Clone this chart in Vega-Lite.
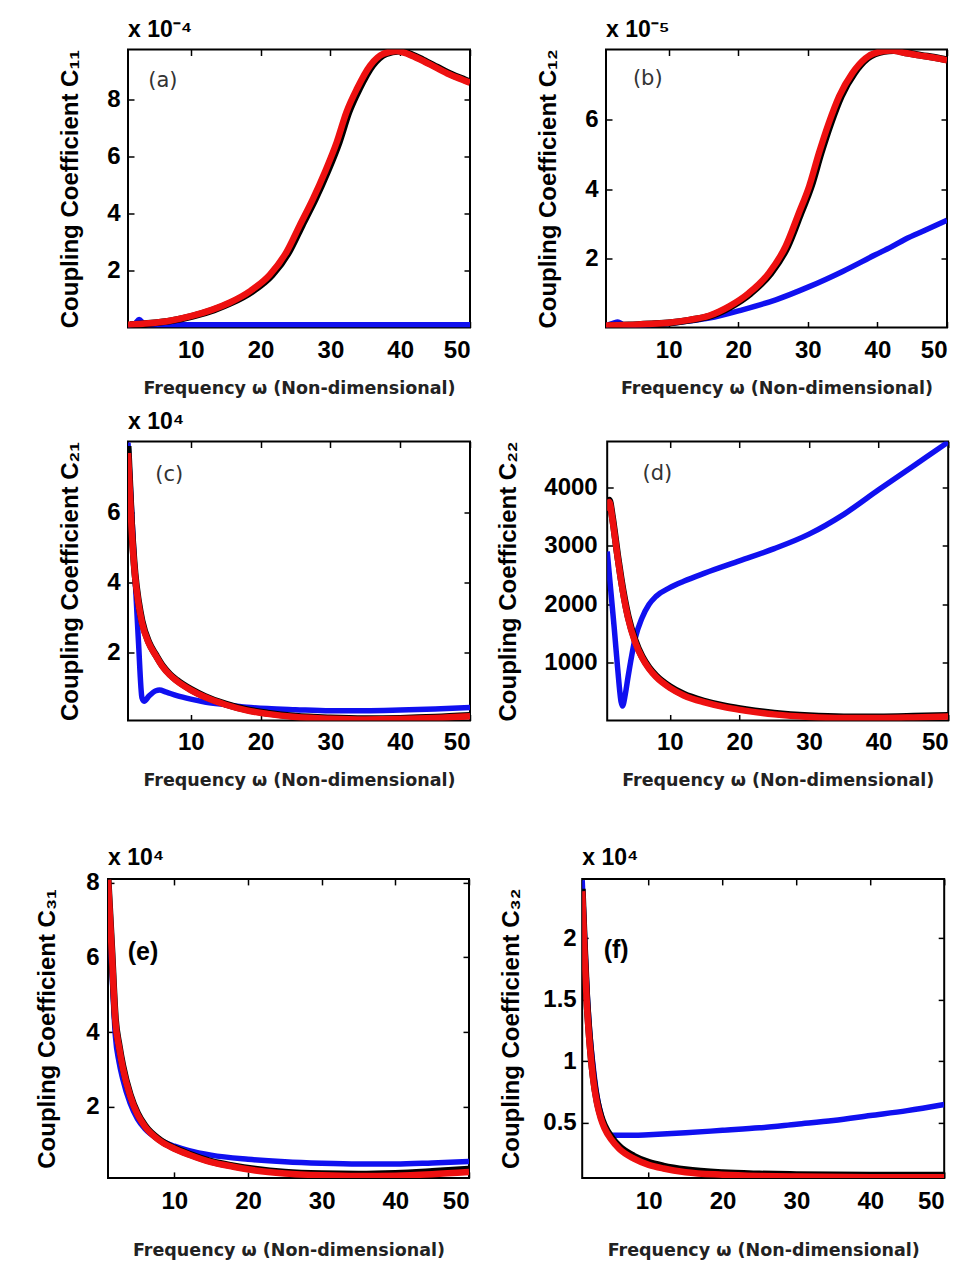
{
  "$schema": "https://vega.github.io/schema/vega-lite/v6.json",
  "background": "white",
  "padding": {"left": 2, "top": 17.5, "right": 0, "bottom": 0},
  "config": {
    "view": {"stroke": "black", "strokeWidth": 2},
    "axis": {"grid": false, "domain": false, "tickColor": "black", "tickWidth": 1.5, "tickSize": -6,
      "labelFont": "Liberation Sans", "labelFontWeight": "bold", "labelFontSize": 24, "labelColor": "black"},
    "axisX": {"titleFont": "DejaVu Sans", "titleFontWeight": "bold", "titleFontSize": 17.5, "titleColor": "#222222"},
    "axisY": {"titleFont": "Liberation Sans", "titleFontWeight": "bold", "titleFontSize": 24, "titleColor": "black"},
    "title": {"font": "Liberation Sans", "fontWeight": "bold", "fontSize": 23, "color": "black", "anchor": "start", "frame": "group", "offset": 6.5}
  },
  "datasets": {
    "a": [
      {"w":1,"s":"blue","c":0.08},{"w":2,"s":"blue","c":0.14},{"w":2.6,"s":"blue","c":0.28},{"w":3.2,"s":"blue","c":0.15},{"w":4,"s":"blue","c":0.1},{"w":6,"s":"blue","c":0.1},{"w":10,"s":"blue","c":0.1},{"w":20,"s":"blue","c":0.1},{"w":30,"s":"blue","c":0.1},{"w":40,"s":"blue","c":0.1},{"w":50,"s":"blue","c":0.1},
      {"w":1.3,"s":"black","c":0.1},{"w":4.3,"s":"black","c":0.15},{"w":7.3,"s":"black","c":0.24},{"w":10.3,"s":"black","c":0.4},{"w":13.3,"s":"black","c":0.62},{"w":15.9,"s":"black","c":0.88},{"w":18.85,"s":"black","c":1.28},{"w":21.65,"s":"black","c":1.85},{"w":24.05,"s":"black","c":2.65},{"w":25.95,"s":"black","c":3.59},{"w":27.85,"s":"black","c":4.52},{"w":29.55,"s":"black","c":5.46},{"w":31.25,"s":"black","c":6.51},{"w":32.65,"s":"black","c":7.57},{"w":34.15,"s":"black","c":8.39},{"w":36.05,"s":"black","c":9.21},{"w":37.95,"s":"black","c":9.62},{"w":39.85,"s":"black","c":9.72},{"w":41.75,"s":"black","c":9.58},{"w":43.3,"s":"black","c":9.4},{"w":45.3,"s":"black","c":9.15},{"w":47.3,"s":"black","c":8.9},{"w":49.3,"s":"black","c":8.7},{"w":50.3,"s":"black","c":8.6},
      {"w":1,"s":"red","c":0.1},{"w":4,"s":"red","c":0.15},{"w":7,"s":"red","c":0.24},{"w":10,"s":"red","c":0.4},{"w":13,"s":"red","c":0.62},{"w":15.6,"s":"red","c":0.88},{"w":18.5,"s":"red","c":1.28},{"w":21.3,"s":"red","c":1.85},{"w":23.7,"s":"red","c":2.65},{"w":25.6,"s":"red","c":3.59},{"w":27.5,"s":"red","c":4.52},{"w":29.2,"s":"red","c":5.46},{"w":30.9,"s":"red","c":6.51},{"w":32.3,"s":"red","c":7.57},{"w":33.8,"s":"red","c":8.39},{"w":35.7,"s":"red","c":9.21},{"w":37.6,"s":"red","c":9.62},{"w":39.5,"s":"red","c":9.72},{"w":41.4,"s":"red","c":9.58},{"w":43,"s":"red","c":9.4},{"w":45,"s":"red","c":9.15},{"w":47,"s":"red","c":8.9},{"w":49,"s":"red","c":8.7},{"w":50,"s":"red","c":8.6}
    ],
    "b": [
      {"w":1,"s":"blue","c":0.05},{"w":2,"s":"blue","c":0.12},{"w":2.7,"s":"blue","c":0.16},{"w":3.5,"s":"blue","c":0.08},{"w":5,"s":"blue","c":0.06},{"w":8,"s":"blue","c":0.09},{"w":11,"s":"blue","c":0.14},{"w":13.5,"s":"blue","c":0.2},{"w":15.8,"s":"blue","c":0.27},{"w":20.6,"s":"blue","c":0.51},{"w":25.4,"s":"blue","c":0.8},{"w":30.2,"s":"blue","c":1.18},{"w":35,"s":"blue","c":1.62},{"w":39.7,"s":"blue","c":2.1},{"w":42,"s":"blue","c":2.33},{"w":44,"s":"blue","c":2.55},{"w":47,"s":"blue","c":2.82},{"w":50,"s":"blue","c":3.1},
      {"w":1.3,"s":"black","c":0.06},{"w":4.3,"s":"black","c":0.07},{"w":7.3,"s":"black","c":0.1},{"w":10.3,"s":"black","c":0.14},{"w":13.3,"s":"black","c":0.22},{"w":16.1,"s":"black","c":0.34},{"w":19,"s":"black","c":0.61},{"w":21.8,"s":"black","c":0.99},{"w":24.7,"s":"black","c":1.57},{"w":27.1,"s":"black","c":2.34},{"w":29,"s":"black","c":3.3},{"w":30.5,"s":"black","c":4.08},{"w":31.9,"s":"black","c":5.04},{"w":33.3,"s":"black","c":5.9},{"w":34.8,"s":"black","c":6.68},{"w":36.7,"s":"black","c":7.35},{"w":38.6,"s":"black","c":7.78},{"w":41,"s":"black","c":7.98},{"w":42.3,"s":"black","c":8.0},{"w":44.3,"s":"black","c":7.93},{"w":46.3,"s":"black","c":7.86},{"w":48.3,"s":"black","c":7.8},{"w":50.3,"s":"black","c":7.72},
      {"w":1,"s":"red","c":0.06},{"w":4,"s":"red","c":0.07},{"w":7,"s":"red","c":0.1},{"w":10,"s":"red","c":0.14},{"w":13,"s":"red","c":0.22},{"w":15.8,"s":"red","c":0.34},{"w":18.7,"s":"red","c":0.61},{"w":21.5,"s":"red","c":0.99},{"w":24.4,"s":"red","c":1.57},{"w":26.8,"s":"red","c":2.34},{"w":28.7,"s":"red","c":3.3},{"w":30.2,"s":"red","c":4.08},{"w":31.6,"s":"red","c":5.04},{"w":33,"s":"red","c":5.9},{"w":34.5,"s":"red","c":6.68},{"w":36.4,"s":"red","c":7.35},{"w":38.3,"s":"red","c":7.78},{"w":40.7,"s":"red","c":7.98},{"w":42,"s":"red","c":8.0},{"w":44,"s":"red","c":7.93},{"w":46,"s":"red","c":7.86},{"w":48,"s":"red","c":7.8},{"w":50,"s":"red","c":7.72}
    ],
    "c": [
      {"w":1,"s":"blue","c":8.0},{"w":1.5,"s":"blue","c":6.1},{"w":2,"s":"blue","c":4.2},{"w":2.5,"s":"blue","c":2.3},{"w":3,"s":"blue","c":0.7},{"w":3.3,"s":"blue","c":0.6},{"w":4,"s":"blue","c":0.75},{"w":5,"s":"blue","c":0.9},{"w":5.5,"s":"blue","c":0.92},{"w":6.5,"s":"blue","c":0.86},{"w":8,"s":"blue","c":0.76},{"w":10,"s":"blue","c":0.66},{"w":12,"s":"blue","c":0.58},{"w":15,"s":"blue","c":0.5},{"w":18,"s":"blue","c":0.43},{"w":21,"s":"blue","c":0.39},{"w":25,"s":"blue","c":0.36},{"w":30,"s":"blue","c":0.33},{"w":35,"s":"blue","c":0.33},{"w":40,"s":"blue","c":0.35},{"w":45,"s":"blue","c":0.38},{"w":50,"s":"blue","c":0.42},
      {"w":1,"s":"black","c":7.9},{"w":1.5,"s":"black","c":5.7},{"w":2,"s":"black","c":4.25},{"w":2.5,"s":"black","c":3.45},{"w":3,"s":"black","c":2.9},{"w":4,"s":"black","c":2.28},{"w":5,"s":"black","c":1.92},{"w":6,"s":"black","c":1.6},{"w":7,"s":"black","c":1.37},{"w":8,"s":"black","c":1.2},{"w":10,"s":"black","c":0.94},{"w":12,"s":"black","c":0.74},{"w":15,"s":"black","c":0.52},{"w":18,"s":"black","c":0.36},{"w":21,"s":"black","c":0.26},{"w":25,"s":"black","c":0.17},{"w":30,"s":"black","c":0.12},{"w":35,"s":"black","c":0.1},{"w":40,"s":"black","c":0.11},{"w":45,"s":"black","c":0.14},{"w":50,"s":"black","c":0.19},
      {"w":1,"s":"red","c":7.7},{"w":1.5,"s":"red","c":5.6},{"w":2,"s":"red","c":4.2},{"w":2.5,"s":"red","c":3.4},{"w":3,"s":"red","c":2.85},{"w":4,"s":"red","c":2.25},{"w":5,"s":"red","c":1.9},{"w":6,"s":"red","c":1.58},{"w":7,"s":"red","c":1.35},{"w":8,"s":"red","c":1.18},{"w":10,"s":"red","c":0.92},{"w":12,"s":"red","c":0.72},{"w":15,"s":"red","c":0.5},{"w":18,"s":"red","c":0.34},{"w":21,"s":"red","c":0.24},{"w":25,"s":"red","c":0.15},{"w":30,"s":"red","c":0.1},{"w":35,"s":"red","c":0.08},{"w":40,"s":"red","c":0.09},{"w":45,"s":"red","c":0.12},{"w":50,"s":"red","c":0.17}
    ],
    "d": [
      {"w":1,"s":"blue","c":2900},{"w":1.5,"s":"blue","c":2250},{"w":2,"s":"blue","c":1600},{"w":2.5,"s":"blue","c":900},{"w":3,"s":"blue","c":320},{"w":3.2,"s":"blue","c":250},{"w":3.6,"s":"blue","c":450},{"w":4,"s":"blue","c":750},{"w":4.5,"s":"blue","c":1100},{"w":5,"s":"blue","c":1400},{"w":6,"s":"blue","c":1760},{"w":7,"s":"blue","c":1990},{"w":8,"s":"blue","c":2130},{"w":10,"s":"blue","c":2280},{"w":12,"s":"blue","c":2390},{"w":15,"s":"blue","c":2530},{"w":20,"s":"blue","c":2740},{"w":25,"s":"blue","c":2950},{"w":30,"s":"blue","c":3200},{"w":35,"s":"blue","c":3540},{"w":40,"s":"blue","c":3960},{"w":45,"s":"blue","c":4370},{"w":50,"s":"blue","c":4780},
      {"w":1,"s":"black","c":3650},{"w":1.3,"s":"black","c":3780},{"w":1.7,"s":"black","c":3530},{"w":2,"s":"black","c":3280},{"w":2.5,"s":"black","c":2830},{"w":3,"s":"black","c":2430},{"w":3.5,"s":"black","c":2080},{"w":4,"s":"black","c":1790},{"w":5,"s":"black","c":1380},{"w":6,"s":"black","c":1100},{"w":7,"s":"black","c":910},{"w":8,"s":"black","c":770},{"w":10,"s":"black","c":580},{"w":12,"s":"black","c":450},{"w":15,"s":"black","c":330},{"w":18,"s":"black","c":245},{"w":21,"s":"black","c":185},{"w":25,"s":"black","c":125},{"w":30,"s":"black","c":80},{"w":35,"s":"black","c":62},{"w":40,"s":"black","c":62},{"w":45,"s":"black","c":72},{"w":50,"s":"black","c":88},
      {"w":1,"s":"red","c":3600},{"w":1.3,"s":"red","c":3750},{"w":1.7,"s":"red","c":3500},{"w":2,"s":"red","c":3250},{"w":2.5,"s":"red","c":2800},{"w":3,"s":"red","c":2400},{"w":3.5,"s":"red","c":2050},{"w":4,"s":"red","c":1760},{"w":5,"s":"red","c":1350},{"w":6,"s":"red","c":1080},{"w":7,"s":"red","c":890},{"w":8,"s":"red","c":750},{"w":10,"s":"red","c":560},{"w":12,"s":"red","c":430},{"w":15,"s":"red","c":310},{"w":18,"s":"red","c":225},{"w":21,"s":"red","c":165},{"w":25,"s":"red","c":105},{"w":30,"s":"red","c":60},{"w":35,"s":"red","c":42},{"w":40,"s":"red","c":42},{"w":45,"s":"red","c":52},{"w":50,"s":"red","c":68}
    ],
    "e": [
      {"w":1,"s":"blue","c":8.05},{"w":1.5,"s":"blue","c":5.8},{"w":2,"s":"blue","c":3.9},{"w":2.5,"s":"blue","c":3.2},{"w":3,"s":"blue","c":2.75},{"w":4,"s":"blue","c":2.1},{"w":5,"s":"blue","c":1.68},{"w":6,"s":"blue","c":1.42},{"w":8,"s":"blue","c":1.12},{"w":10,"s":"blue","c":0.95},{"w":12,"s":"blue","c":0.83},{"w":15,"s":"blue","c":0.71},{"w":20,"s":"blue","c":0.6},{"w":25,"s":"blue","c":0.53},{"w":30,"s":"blue","c":0.49},{"w":35,"s":"blue","c":0.47},{"w":40,"s":"blue","c":0.47},{"w":45,"s":"blue","c":0.5},{"w":50,"s":"blue","c":0.54},
      {"w":1,"s":"black","c":8.1},{"w":1.5,"s":"black","c":6.25},{"w":2,"s":"black","c":4.35},{"w":2.5,"s":"black","c":3.65},{"w":3,"s":"black","c":3.1},{"w":4,"s":"black","c":2.33},{"w":5,"s":"black","c":1.83},{"w":6,"s":"black","c":1.5},{"w":8,"s":"black","c":1.12},{"w":10,"s":"black","c":0.9},{"w":12,"s":"black","c":0.74},{"w":15,"s":"black","c":0.54},{"w":18,"s":"black","c":0.42},{"w":21,"s":"black","c":0.33},{"w":25,"s":"black","c":0.25},{"w":30,"s":"black","c":0.21},{"w":35,"s":"black","c":0.2},{"w":40,"s":"black","c":0.22},{"w":45,"s":"black","c":0.27},{"w":50,"s":"black","c":0.33},
      {"w":1,"s":"red","c":8.08},{"w":1.5,"s":"red","c":6.2},{"w":2,"s":"red","c":4.3},{"w":2.5,"s":"red","c":3.6},{"w":3,"s":"red","c":3.05},{"w":4,"s":"red","c":2.3},{"w":5,"s":"red","c":1.8},{"w":6,"s":"red","c":1.48},{"w":8,"s":"red","c":1.1},{"w":10,"s":"red","c":0.88},{"w":12,"s":"red","c":0.72},{"w":15,"s":"red","c":0.52},{"w":18,"s":"red","c":0.4},{"w":21,"s":"red","c":0.3},{"w":25,"s":"red","c":0.22},{"w":30,"s":"red","c":0.17},{"w":35,"s":"red","c":0.15},{"w":40,"s":"red","c":0.16},{"w":45,"s":"red","c":0.2},{"w":50,"s":"red","c":0.26}
    ],
    "f": [
      {"w":1,"s":"blue","c":2.47},{"w":1.5,"s":"blue","c":1.75},{"w":2,"s":"blue","c":1.25},{"w":2.5,"s":"blue","c":0.95},{"w":3,"s":"blue","c":0.72},{"w":3.5,"s":"blue","c":0.58},{"w":4,"s":"blue","c":0.47},{"w":4.5,"s":"blue","c":0.41},{"w":5,"s":"blue","c":0.4},{"w":8,"s":"blue","c":0.4},{"w":10,"s":"blue","c":0.405},{"w":15,"s":"blue","c":0.42},{"w":20,"s":"blue","c":0.44},{"w":25,"s":"blue","c":0.46},{"w":30,"s":"blue","c":0.49},{"w":35,"s":"blue","c":0.52},{"w":40,"s":"blue","c":0.56},{"w":45,"s":"blue","c":0.6},{"w":50,"s":"blue","c":0.65},
      {"w":1,"s":"black","c":2.4},{"w":1.3,"s":"black","c":1.93},{"w":1.6,"s":"black","c":1.53},{"w":2,"s":"black","c":1.18},{"w":2.5,"s":"black","c":0.87},{"w":3,"s":"black","c":0.68},{"w":3.5,"s":"black","c":0.56},{"w":4,"s":"black","c":0.48},{"w":5,"s":"black","c":0.38},{"w":6,"s":"black","c":0.31},{"w":8,"s":"black","c":0.23},{"w":10,"s":"black","c":0.18},{"w":12,"s":"black","c":0.15},{"w":15,"s":"black","c":0.12},{"w":20,"s":"black","c":0.095},{"w":25,"s":"black","c":0.085},{"w":30,"s":"black","c":0.08},{"w":40,"s":"black","c":0.075},{"w":50,"s":"black","c":0.075},
      {"w":1,"s":"red","c":2.38},{"w":1.3,"s":"red","c":1.9},{"w":1.6,"s":"red","c":1.5},{"w":2,"s":"red","c":1.15},{"w":2.5,"s":"red","c":0.85},{"w":3,"s":"red","c":0.66},{"w":3.5,"s":"red","c":0.54},{"w":4,"s":"red","c":0.46},{"w":5,"s":"red","c":0.36},{"w":6,"s":"red","c":0.29},{"w":8,"s":"red","c":0.21},{"w":10,"s":"red","c":0.16},{"w":12,"s":"red","c":0.13},{"w":15,"s":"red","c":0.1},{"w":20,"s":"red","c":0.08},{"w":25,"s":"red","c":0.07},{"w":30,"s":"red","c":0.065},{"w":40,"s":"red","c":0.06},{"w":50,"s":"red","c":0.06}
    ]
  },
  "vconcat": [
    {
      "spacing": 11,
      "vconcat": [
        {
          "spacing": 0,
          "hconcat": [
            {"width": 54.7, "height": 1, "data": {"values": []}, "mark": "point", "view": {"stroke": null}},
            {
              "spacing": 63,
              "hconcat": [
                {
                  "width": 342, "height": 278,
                  "title": {"text": "x 10⁻⁴"},
                  "data": {"name": "a"},
                  "layer": [
                    {"transform": [{"filter": "datum.s === 'blue'"}],
                     "mark": {"type": "line", "color": "#1010f0", "strokeWidth": 5.5, "clip": true, "interpolate": "monotone"},
                     "encoding": {
                       "x": {"field": "w", "type": "quantitative", "scale": {"domain": [1, 50], "nice": false, "zero": false},
                         "axis": {"orient": "bottom", "values": [10, 20, 30, 40, 50], "format": "d", "title": "Frequency ω (Non-dimensional)", "labelPadding": 17, "titlePadding": 17}},
                       "y": {"field": "c", "type": "quantitative", "scale": {"domain": [0, 9.77], "nice": false, "zero": false},
                         "axis": {"orient": "left", "values": [2, 4, 6, 8], "format": "~g", "title": "Coupling Coefficient C₁₁", "labelPadding": 14, "titlePadding": 24}}}},
                    {"transform": [{"filter": "datum.s === 'black'"}],
                     "mark": {"type": "line", "color": "black", "strokeWidth": 7, "clip": true, "interpolate": "monotone"},
                     "encoding": {
                       "x": {"field": "w", "type": "quantitative", "scale": {"domain": [1, 50], "nice": false, "zero": false},
                         "axis": {"orient": "top", "values": [10, 20, 30, 40, 50], "labels": false, "title": null}},
                       "y": {"field": "c", "type": "quantitative", "scale": {"domain": [0, 9.77], "nice": false, "zero": false},
                         "axis": {"orient": "right", "values": [2, 4, 6, 8], "labels": false, "title": null}}}},
                    {"transform": [{"filter": "datum.s === 'red'"}],
                     "mark": {"type": "line", "color": "#ee1010", "strokeWidth": 6.5, "clip": true, "interpolate": "monotone"},
                     "encoding": {
                       "x": {"field": "w", "type": "quantitative", "scale": {"domain": [1, 50], "nice": false, "zero": false}, "axis": null},
                       "y": {"field": "c", "type": "quantitative", "scale": {"domain": [0, 9.77], "nice": false, "zero": false}, "axis": null}}},
                    {"data": {"values": [{"label": "(a)"}]},
                     "mark": {"type": "text", "font": "DejaVu Sans", "fontSize": 21, "color": "#333333", "align": "center", "baseline": "middle"},
                     "encoding": {
                       "x": {"datum": 6, "type": "quantitative", "scale": {"domain": [1, 50], "nice": false, "zero": false}, "axis": null},
                       "y": {"datum": 8.65, "type": "quantitative", "scale": {"domain": [0, 9.77], "nice": false, "zero": false}, "axis": null},
                       "text": {"field": "label"}}}
                  ],
                  "resolve": {"axis": {"x": "independent", "y": "independent"}}
                },
                {
                  "width": 341, "height": 278,
                  "title": {"text": "x 10⁻⁵"},
                  "data": {"name": "b"},
                  "layer": [
                    {"transform": [{"filter": "datum.s === 'blue'"}],
                     "mark": {"type": "line", "color": "#1010f0", "strokeWidth": 5.5, "clip": true, "interpolate": "monotone"},
                     "encoding": {
                       "x": {"field": "w", "type": "quantitative", "scale": {"domain": [1, 50], "nice": false, "zero": false},
                         "axis": {"orient": "bottom", "values": [10, 20, 30, 40, 50], "format": "d", "title": "Frequency ω (Non-dimensional)", "labelPadding": 17, "titlePadding": 17}},
                       "y": {"field": "c", "type": "quantitative", "scale": {"domain": [0, 8.03], "nice": false, "zero": false},
                         "axis": {"orient": "left", "values": [2, 4, 6], "format": "~g", "title": "Coupling Coefficient C₁₂", "labelPadding": 14, "titlePadding": 24}}}},
                    {"transform": [{"filter": "datum.s === 'black'"}],
                     "mark": {"type": "line", "color": "black", "strokeWidth": 7, "clip": true, "interpolate": "monotone"},
                     "encoding": {
                       "x": {"field": "w", "type": "quantitative", "scale": {"domain": [1, 50], "nice": false, "zero": false},
                         "axis": {"orient": "top", "values": [10, 20, 30, 40, 50], "labels": false, "title": null}},
                       "y": {"field": "c", "type": "quantitative", "scale": {"domain": [0, 8.03], "nice": false, "zero": false},
                         "axis": {"orient": "right", "values": [2, 4, 6], "labels": false, "title": null}}}},
                    {"transform": [{"filter": "datum.s === 'red'"}],
                     "mark": {"type": "line", "color": "#ee1010", "strokeWidth": 6.5, "clip": true, "interpolate": "monotone"},
                     "encoding": {
                       "x": {"field": "w", "type": "quantitative", "scale": {"domain": [1, 50], "nice": false, "zero": false}, "axis": null},
                       "y": {"field": "c", "type": "quantitative", "scale": {"domain": [0, 8.03], "nice": false, "zero": false}, "axis": null}}},
                    {"data": {"values": [{"label": "(b)"}]},
                     "mark": {"type": "text", "font": "DejaVu Sans", "fontSize": 21, "color": "#333333", "align": "center", "baseline": "middle"},
                     "encoding": {
                       "x": {"datum": 7, "type": "quantitative", "scale": {"domain": [1, 50], "nice": false, "zero": false}, "axis": null},
                       "y": {"datum": 7.17, "type": "quantitative", "scale": {"domain": [0, 8.03], "nice": false, "zero": false}, "axis": null},
                       "text": {"field": "label"}}}
                  ],
                  "resolve": {"axis": {"x": "independent", "y": "independent"}}
                }
              ]
            }
          ]
        },
        {
          "spacing": 0,
          "hconcat": [
            {"width": 54.7, "height": 1, "data": {"values": []}, "mark": "point", "view": {"stroke": null}},
            {
              "spacing": 23.2,
              "hconcat": [
                {
                  "width": 342, "height": 279,
                  "title": {"text": "x 10⁴"},
                  "data": {"name": "c"},
                  "layer": [
                    {"transform": [{"filter": "datum.s === 'blue'"}],
                     "mark": {"type": "line", "color": "#1010f0", "strokeWidth": 5.5, "clip": true, "interpolate": "monotone"},
                     "encoding": {
                       "x": {"field": "w", "type": "quantitative", "scale": {"domain": [1, 50], "nice": false, "zero": false},
                         "axis": {"orient": "bottom", "values": [10, 20, 30, 40, 50], "format": "d", "title": "Frequency ω (Non-dimensional)", "labelPadding": 16, "titlePadding": 17}},
                       "y": {"field": "c", "type": "quantitative", "scale": {"domain": [0.05, 8.03], "nice": false, "zero": false},
                         "axis": {"orient": "left", "values": [2, 4, 6], "format": "~g", "title": "Coupling Coefficient C₂₁", "labelPadding": 14, "titlePadding": 24}}}},
                    {"transform": [{"filter": "datum.s === 'black'"}],
                     "mark": {"type": "line", "color": "black", "strokeWidth": 7, "clip": true, "interpolate": "monotone"},
                     "encoding": {
                       "x": {"field": "w", "type": "quantitative", "scale": {"domain": [1, 50], "nice": false, "zero": false},
                         "axis": {"orient": "top", "values": [10, 20, 30, 40, 50], "labels": false, "title": null}},
                       "y": {"field": "c", "type": "quantitative", "scale": {"domain": [0.05, 8.03], "nice": false, "zero": false},
                         "axis": {"orient": "right", "values": [2, 4, 6], "labels": false, "title": null}}}},
                    {"transform": [{"filter": "datum.s === 'red'"}],
                     "mark": {"type": "line", "color": "#ee1010", "strokeWidth": 6.5, "clip": true, "interpolate": "monotone"},
                     "encoding": {
                       "x": {"field": "w", "type": "quantitative", "scale": {"domain": [1, 50], "nice": false, "zero": false}, "axis": null},
                       "y": {"field": "c", "type": "quantitative", "scale": {"domain": [0.05, 8.03], "nice": false, "zero": false}, "axis": null}}},
                    {"data": {"values": [{"label": "(c)"}]},
                     "mark": {"type": "text", "font": "DejaVu Sans", "fontSize": 21, "color": "#333333", "align": "center", "baseline": "middle"},
                     "encoding": {
                       "x": {"datum": 6.9, "type": "quantitative", "scale": {"domain": [1, 50], "nice": false, "zero": false}, "axis": null},
                       "y": {"datum": 7.08, "type": "quantitative", "scale": {"domain": [0.05, 8.03], "nice": false, "zero": false}, "axis": null},
                       "text": {"field": "label"}}}
                  ],
                  "resolve": {"axis": {"x": "independent", "y": "independent"}}
                },
                {
                  "width": 341, "height": 279,
                  "data": {"name": "d"},
                  "layer": [
                    {"transform": [{"filter": "datum.s === 'blue'"}],
                     "mark": {"type": "line", "color": "#1010f0", "strokeWidth": 5.5, "clip": true, "interpolate": "monotone"},
                     "encoding": {
                       "x": {"field": "w", "type": "quantitative", "scale": {"domain": [1, 50], "nice": false, "zero": false},
                         "axis": {"orient": "bottom", "values": [10, 20, 30, 40, 50], "format": "d", "title": "Frequency ω (Non-dimensional)", "labelPadding": 16, "titlePadding": 17}},
                       "y": {"field": "c", "type": "quantitative", "scale": {"domain": [0, 4790], "nice": false, "zero": false},
                         "axis": {"orient": "left", "values": [1000, 2000, 3000, 4000], "format": "d", "title": "Coupling Coefficient C₂₂", "labelPadding": 16, "titlePadding": 23}}}},
                    {"transform": [{"filter": "datum.s === 'black'"}],
                     "mark": {"type": "line", "color": "black", "strokeWidth": 7, "clip": true, "interpolate": "monotone"},
                     "encoding": {
                       "x": {"field": "w", "type": "quantitative", "scale": {"domain": [1, 50], "nice": false, "zero": false},
                         "axis": {"orient": "top", "values": [10, 20, 30, 40, 50], "labels": false, "title": null}},
                       "y": {"field": "c", "type": "quantitative", "scale": {"domain": [0, 4790], "nice": false, "zero": false},
                         "axis": {"orient": "right", "values": [1000, 2000, 3000, 4000], "labels": false, "title": null}}}},
                    {"transform": [{"filter": "datum.s === 'red'"}],
                     "mark": {"type": "line", "color": "#ee1010", "strokeWidth": 6.5, "clip": true, "interpolate": "monotone"},
                     "encoding": {
                       "x": {"field": "w", "type": "quantitative", "scale": {"domain": [1, 50], "nice": false, "zero": false}, "axis": null},
                       "y": {"field": "c", "type": "quantitative", "scale": {"domain": [0, 4790], "nice": false, "zero": false}, "axis": null}}},
                    {"data": {"values": [{"label": "(d)"}]},
                     "mark": {"type": "text", "font": "DejaVu Sans", "fontSize": 21, "color": "#333333", "align": "center", "baseline": "middle"},
                     "encoding": {
                       "x": {"datum": 8.2, "type": "quantitative", "scale": {"domain": [1, 50], "nice": false, "zero": false}, "axis": null},
                       "y": {"datum": 4234, "type": "quantitative", "scale": {"domain": [0, 4790], "nice": false, "zero": false}, "axis": null},
                       "text": {"field": "label"}}}
                  ],
                  "resolve": {"axis": {"x": "independent", "y": "independent"}}
                }
              ]
            }
          ]
        }
      ]
    },
    {
      "spacing": 0,
      "hconcat": [
        {"width": 31.7, "height": 1, "data": {"values": []}, "mark": "point", "view": {"stroke": null}},
        {
          "spacing": 27.2,
          "hconcat": [
            {
              "width": 361, "height": 299,
              "title": {"text": "x 10⁴", "offset": 1},
              "data": {"name": "e"},
              "layer": [
                {"transform": [{"filter": "datum.s === 'blue'"}],
                 "mark": {"type": "line", "color": "#1010f0", "strokeWidth": 5.5, "clip": true, "interpolate": "monotone"},
                 "encoding": {
                   "x": {"field": "w", "type": "quantitative", "scale": {"domain": [1, 50], "nice": false, "zero": false},
                     "axis": {"orient": "bottom", "values": [10, 20, 30, 40, 50], "format": "d", "title": "Frequency ω (Non-dimensional)", "labelPadding": 18, "titlePadding": 28}},
                   "y": {"field": "c", "type": "quantitative", "scale": {"domain": [0.1, 8.1], "nice": false, "zero": false},
                     "axis": {"orient": "left", "values": [2, 4, 6, 8], "format": "~g", "title": "Coupling Coefficient C₃₁", "labelPadding": 15, "titlePadding": 26}}}},
                {"transform": [{"filter": "datum.s === 'black'"}],
                 "mark": {"type": "line", "color": "black", "strokeWidth": 7, "clip": true, "interpolate": "monotone"},
                 "encoding": {
                   "x": {"field": "w", "type": "quantitative", "scale": {"domain": [1, 50], "nice": false, "zero": false},
                     "axis": {"orient": "top", "values": [10, 20, 30, 40, 50], "labels": false, "title": null}},
                   "y": {"field": "c", "type": "quantitative", "scale": {"domain": [0.1, 8.1], "nice": false, "zero": false},
                     "axis": {"orient": "right", "values": [2, 4, 6, 8], "labels": false, "title": null}}}},
                {"transform": [{"filter": "datum.s === 'red'"}],
                 "mark": {"type": "line", "color": "#ee1010", "strokeWidth": 6.5, "clip": true, "interpolate": "monotone"},
                 "encoding": {
                   "x": {"field": "w", "type": "quantitative", "scale": {"domain": [1, 50], "nice": false, "zero": false}, "axis": null},
                   "y": {"field": "c", "type": "quantitative", "scale": {"domain": [0.1, 8.1], "nice": false, "zero": false}, "axis": null}}},
                {"data": {"values": [{"label": "(e)"}]},
                 "mark": {"type": "text", "font": "Liberation Sans", "fontWeight": "bold", "fontSize": 25, "color": "black", "align": "center", "baseline": "middle"},
                 "encoding": {
                   "x": {"datum": 5.75, "type": "quantitative", "scale": {"domain": [1, 50], "nice": false, "zero": false}, "axis": null},
                   "y": {"datum": 6.15, "type": "quantitative", "scale": {"domain": [0.1, 8.1], "nice": false, "zero": false}, "axis": null},
                   "text": {"field": "label"}}}
              ],
              "resolve": {"axis": {"x": "independent", "y": "independent"}}
            },
            {
              "width": 362, "height": 299,
              "title": {"text": "x 10⁴", "offset": 8},
              "data": {"name": "f"},
              "layer": [
                {"transform": [{"filter": "datum.s === 'blue'"}],
                 "mark": {"type": "line", "color": "#1010f0", "strokeWidth": 5.5, "clip": true, "interpolate": "monotone"},
                 "encoding": {
                   "x": {"field": "w", "type": "quantitative", "scale": {"domain": [1, 50], "nice": false, "zero": false},
                     "axis": {"orient": "bottom", "values": [10, 20, 30, 40, 50], "format": "d", "title": "Frequency ω (Non-dimensional)", "labelPadding": 18, "titlePadding": 28}},
                   "y": {"field": "c", "type": "quantitative", "scale": {"domain": [0.054, 2.48], "nice": false, "zero": false},
                     "axis": {"orient": "left", "values": [0.5, 1, 1.5, 2], "format": "~g", "title": "Coupling Coefficient C₃₂", "labelPadding": 12, "titlePadding": 19}}}},
                {"transform": [{"filter": "datum.s === 'black'"}],
                 "mark": {"type": "line", "color": "black", "strokeWidth": 7, "clip": true, "interpolate": "monotone"},
                 "encoding": {
                   "x": {"field": "w", "type": "quantitative", "scale": {"domain": [1, 50], "nice": false, "zero": false},
                     "axis": {"orient": "top", "values": [10, 20, 30, 40, 50], "labels": false, "title": null}},
                   "y": {"field": "c", "type": "quantitative", "scale": {"domain": [0.054, 2.48], "nice": false, "zero": false},
                     "axis": {"orient": "right", "values": [0.5, 1, 1.5, 2], "labels": false, "title": null}}}},
                {"transform": [{"filter": "datum.s === 'red'"}],
                 "mark": {"type": "line", "color": "#ee1010", "strokeWidth": 6.5, "clip": true, "interpolate": "monotone"},
                 "encoding": {
                   "x": {"field": "w", "type": "quantitative", "scale": {"domain": [1, 50], "nice": false, "zero": false}, "axis": null},
                   "y": {"field": "c", "type": "quantitative", "scale": {"domain": [0.054, 2.48], "nice": false, "zero": false}, "axis": null}}},
                {"data": {"values": [{"label": "(f)"}]},
                 "mark": {"type": "text", "font": "Liberation Sans", "fontWeight": "bold", "fontSize": 25, "color": "black", "align": "center", "baseline": "middle"},
                 "encoding": {
                   "x": {"datum": 5.6, "type": "quantitative", "scale": {"domain": [1, 50], "nice": false, "zero": false}, "axis": null},
                   "y": {"datum": 1.9, "type": "quantitative", "scale": {"domain": [0.054, 2.48], "nice": false, "zero": false}, "axis": null},
                   "text": {"field": "label"}}}
              ],
              "resolve": {"axis": {"x": "independent", "y": "independent"}}
            }
          ]
        }
      ]
    }
  ],
  "spacing": 54.4
}
